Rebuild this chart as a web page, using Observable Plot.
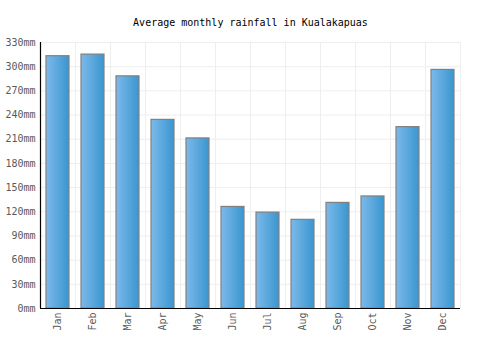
<!DOCTYPE html>
<html>
<head>
<meta charset="utf-8">
<script src="https://cdn.jsdelivr.net/npm/d3@7"></script>
<script src="https://cdn.jsdelivr.net/npm/@observablehq/plot@0.6"></script>
<style>
  body { margin: 0; background: #fff; }
  #chart svg { display: block; }
</style>
</head>
<body>
<div id="chart"></div>
<script>
const title = "Average monthly rainfall in Kualakapuas";
const months = ["Jan","Feb","Mar","Apr","May","Jun","Jul","Aug","Sep","Oct","Nov","Dec"];
const rainfall = [313, 315, 288, 234, 211, 126, 119, 110, 131, 139, 225, 296];
const yTicks = [0, 30, 60, 90, 120, 150, 180, 210, 240, 270, 300, 330];

const data = months.map((m, i) => ({month: m, value: rainfall[i]}));

const W = 500, H = 350, ML = 40, MR = 40, MT = 42, MB = 42;
const step = (W - ML - MR) / months.length;
const font = "DejaVu Sans Mono, monospace";

const svg = Plot.plot({
  width: W,
  height: H,
  marginLeft: ML,
  marginRight: MR,
  marginTop: MT,
  marginBottom: MB,
  style: {fontFamily: font, fontSize: "10px", color: "#5a5a5a", background: "#fff"},
  x: {domain: months, paddingInner: 0.34, paddingOuter: 0.17, label: null, tickSize: 0, tickPadding: 4, tickRotate: -90},
  y: {domain: [0, 330], ticks: yTicks, tickFormat: d => d + "mm", label: null, tickSize: 0, tickPadding: 5},
  marks: [
    Plot.gridY(yTicks, {stroke: "#eee", strokeOpacity: 1}),
    Plot.ruleX(data, {x: "month", dx: step / 2, stroke: "#eee", strokeOpacity: 1}),
    Plot.barY(data, {x: "month", y: "value", fill: "url(#barGrad)", stroke: "#808080", strokeWidth: 1.2}),
    Plot.ruleY([0], {stroke: "#000", strokeWidth: 1.2}),
    Plot.ruleX([months[0]], {dx: -step / 2, stroke: "#000", strokeWidth: 1.2}),
    Plot.text([title], {frameAnchor: "top", dy: -24, text: d => d, fill: "#000", fontSize: 10, fontFamily: font})
  ]
});

const ns = "http://www.w3.org/2000/svg";
const defs = document.createElementNS(ns, "defs");
const grad = document.createElementNS(ns, "linearGradient");
grad.setAttribute("id", "barGrad");
grad.setAttribute("x1", "0"); grad.setAttribute("x2", "1");
grad.setAttribute("y1", "0"); grad.setAttribute("y2", "0");
[["0%", "#7db9ea"], ["100%", "#3996cf"]].forEach(([o, c]) => {
  const s = document.createElementNS(ns, "stop");
  s.setAttribute("offset", o);
  s.setAttribute("stop-color", c);
  grad.appendChild(s);
});
defs.appendChild(grad);
svg.insertBefore(defs, svg.firstChild);

document.getElementById("chart").appendChild(svg);
</script>
</body>
</html>
